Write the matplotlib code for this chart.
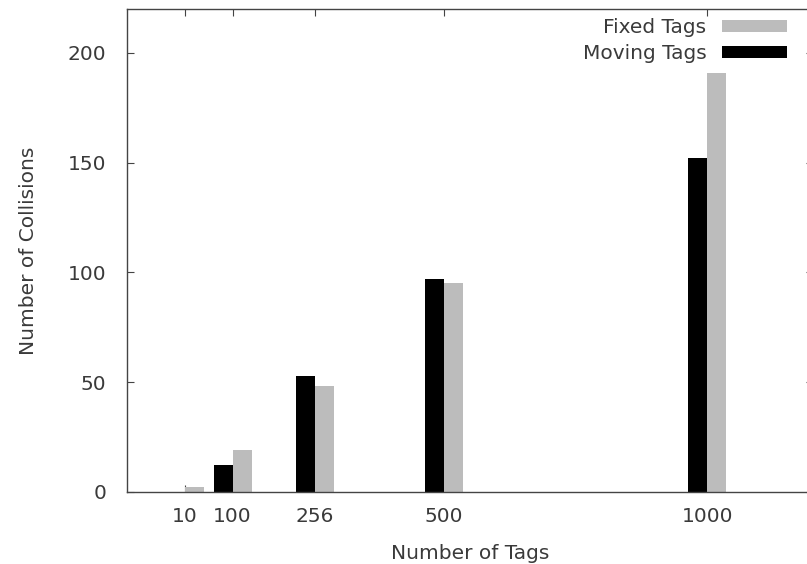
import numpy as np
import matplotlib
matplotlib.use('Agg')
import matplotlib.pyplot as plt

# collisions per tag count
tags = [10, 100, 256, 500, 1000]
moving = [0, 12, 53, 97, 152]
fixed = [2, 19, 48, 95, 191]

txt = '#3a3a3a'
plt.rcParams['font.family'] = 'DejaVu Sans'
fs = 14.5

fig = plt.figure(figsize=(8.07, 5.64), dpi=100)
ax = fig.add_axes([0.1574, 0.128, 0.850, 0.856])

w = 36  # bar width in tag units
x = np.array(tags)
ax.bar(x - w, moving, width=w, align='edge', color='black', label='Moving Tags', zorder=2)
ax.bar(x, fixed, width=w, align='edge', color='#bcbcbc', label='Fixed Tags', zorder=2)

ax.set_xlim(-100, 1200)
ax.set_ylim(0, 220)
ax.set_xticks(tags)
ax.set_xticklabels([str(t) for t in tags])
ax.set_yticks([0, 50, 100, 150, 200])

for s in ax.spines.values():
    s.set_color('#444444')
    s.set_linewidth(1.0)
ax.tick_params(direction='in', length=5, width=0.8, color='#444444',
               top=True, right=True, labelcolor=txt, labelsize=fs)
ax.tick_params(axis='y', pad=15)
ax.tick_params(axis='x', pad=11)

ax.set_xlabel('Number of Tags', color=txt, fontsize=fs, labelpad=13)
ax.set_ylabel('Number of Collisions', color=txt, fontsize=fs, labelpad=21)

h, l = ax.get_legend_handles_labels()
leg = ax.legend(h[::-1], l[::-1], loc='upper right', bbox_to_anchor=(0.962, 0.982),
                frameon=False, markerfirst=False, borderpad=0, borderaxespad=0,
                handlelength=3.2, handleheight=0.53, handletextpad=0.8,
                labelspacing=0.35, fontsize=fs)
for t in leg.get_texts():
    t.set_color(txt)

fig.savefig('out.png', dpi=100)
